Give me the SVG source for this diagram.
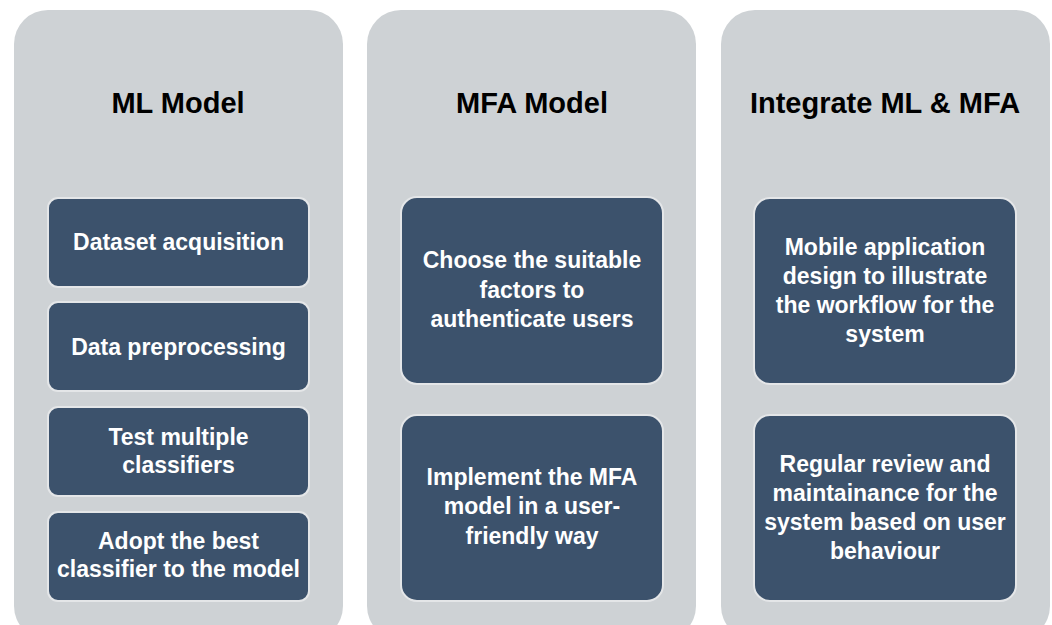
<svg xmlns="http://www.w3.org/2000/svg" width="1052" height="625" viewBox="0 0 1052 625">
<style>
.col{fill:#ced2d5}
.box{fill:#3c526c;stroke:#e4e6e8;stroke-width:2}
.title{font-family:"Liberation Sans",Arial,sans-serif;font-weight:bold;font-size:29px;fill:#000;text-anchor:middle}
.lbl{font-family:"Liberation Sans",Arial,sans-serif;font-weight:bold;font-size:23px;fill:#fff;text-anchor:middle}
</style>
<rect width="1052" height="625" fill="#fff"/>
<g id="col-ml">
<rect class="col" x="14" y="10" width="329" height="630" rx="34"/>
<text class="title" x="178" y="113">ML Model</text>
</g>
<g id="col-mfa">
<rect class="col" x="367" y="10" width="329" height="630" rx="34"/>
<text class="title" x="532" y="113">MFA Model</text>
</g>
<g id="col-int">
<rect class="col" x="721" y="10" width="329" height="630" rx="34"/>
<text class="title" x="885" y="113">Integrate ML &amp; MFA</text>
</g>
<g id="n-dataset">
<rect class="box" x="48" y="198" width="261" height="89" rx="10"/>
<text class="lbl" x="178.5" y="250">Dataset acquisition</text>
</g>
<g id="n-preprocess">
<rect class="box" x="48" y="302" width="261" height="89" rx="10"/>
<text class="lbl" x="178.5" y="355">Data preprocessing</text>
</g>
<g id="n-test">
<rect class="box" x="48" y="407" width="261" height="89" rx="10"/>
<text class="lbl" x="178.5" y="445">Test multiple</text>
<text class="lbl" x="178.5" y="473">classifiers</text>
</g>
<g id="n-adopt">
<rect class="box" x="48" y="512" width="261" height="89" rx="10"/>
<text class="lbl" x="178.5" y="549">Adopt the best</text>
<text class="lbl" x="178.5" y="577">classifier to the model</text>
</g>
<g id="n-choose">
<rect class="box" x="401" y="197" width="262" height="187" rx="16"/>
<text class="lbl" x="532" y="268">Choose the suitable</text>
<text class="lbl" x="532" y="298">factors to</text>
<text class="lbl" x="532" y="327">authenticate users</text>
</g>
<g id="n-implement">
<rect class="box" x="401" y="415" width="262" height="186" rx="16"/>
<text class="lbl" x="532" y="485">Implement the MFA</text>
<text class="lbl" x="532" y="514">model in a user-</text>
<text class="lbl" x="532" y="544">friendly way</text>
</g>
<g id="n-mobile">
<rect class="box" x="754" y="198" width="262" height="186" rx="16"/>
<text class="lbl" x="885" y="255">Mobile application</text>
<text class="lbl" x="885" y="284">design to illustrate</text>
<text class="lbl" x="885" y="313">the workflow for the</text>
<text class="lbl" x="885" y="342">system</text>
</g>
<g id="n-review">
<rect class="box" x="754" y="415" width="262" height="186" rx="16"/>
<text class="lbl" x="885" y="472">Regular review and</text>
<text class="lbl" x="885" y="501">maintainance for the</text>
<text class="lbl" x="885" y="530">system based on user</text>
<text class="lbl" x="885" y="559">behaviour</text>
</g>
<g id="connectors"></g>
</svg>
